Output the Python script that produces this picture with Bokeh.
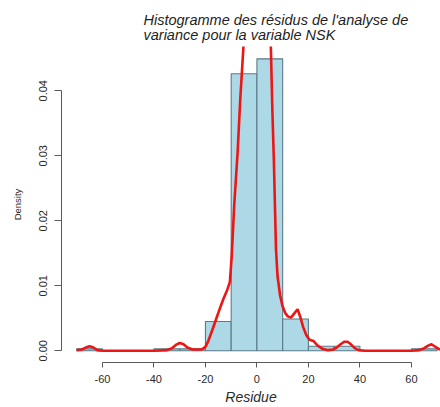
import math
from bokeh.plotting import figure
from bokeh.models import Range1d, FixedTicker, Title
from bokeh.embed import file_html
from bokeh.resources import INLINE

# ---------------- data ----------------
bin_left = [-70, -60, -50, -40, -30, -20, -10, 0, 10, 20, 30, 40, 50, 60]
bin_right = [-60, -50, -40, -30, -20, -10, 0, 10, 20, 30, 40, 50, 60, 70]
density = [0.0003, 0.0, 0.0, 0.0003, 0.0003, 0.0045, 0.0426, 0.0449,
           0.0049, 0.0007, 0.0007, 0.0, 0.0, 0.0003]

kde_x = [-70, -68, -66.5, -65, -63.5, -62, -60, -40, -35, -33, -31.5, -30,
         -28.5, -27, -25, -23, -21.5, -20, -19, -17.5, -16, -14.5, -13,
         -11.5, -10.5, -9.8, -8.8, -7.5, -6.5, -5.2, -4, -2, 0, 2, 4, 5.4,
         6.0, 6.6, 7.4, 8.0, 9.0, 10.0, 11.0, 12.0, 13.2, 14.6, 15.8, 17,
         18, 19.2, 20.4, 22, 23.6, 25.5, 27.5, 29.5, 31, 32.5, 34, 35.2,
         36.5, 38, 39.5, 42, 60, 63, 65, 66.5, 67.8, 69, 70.5, 72]
kde_y = [0.0001, 0.0002, 0.0005, 0.0007, 0.0005, 0.0001, 0.0, 0.0, 0.0001,
         0.0004, 0.0009, 0.0012, 0.0010, 0.0005, 0.0002, 0.0002, 0.0002,
         0.0006, 0.0014, 0.0030, 0.0047, 0.0064, 0.0080, 0.0094, 0.0106,
         0.0145, 0.0225, 0.0305, 0.0385, 0.0470, 0.0560, 0.0680, 0.0720,
         0.0690, 0.0580, 0.0468, 0.0370, 0.0290, 0.0157, 0.0115, 0.0085,
         0.0068, 0.0058, 0.0053, 0.0051, 0.0058, 0.0064, 0.0050, 0.0036,
         0.0024, 0.0017, 0.0015, 0.0008, 0.0003, 0.0001, 0.0002, 0.0005,
         0.0010, 0.0014, 0.0014, 0.0010, 0.0004, 0.0001, 0.0, 0.0, 0.0001,
         0.0004, 0.0008, 0.0010, 0.0007, 0.0003, 0.0001]

x_ticks = [-60, -40, -20, 0, 20, 40, 60]
x_tick_labels = ["-60", "-40", "-20", "0", "20", "40", "60"]
y_ticks = [0.0, 0.01, 0.02, 0.03, 0.04]
y_tick_labels = ["0.00", "0.01", "0.02", "0.03", "0.04"]

title_lines = ["Histogramme des résidus de l'analyse de",
               "variance pour la variable NSK"]
x_label = "Residue"
y_label = "Density"

# ---------------- figure ----------------
FONT = "Liberation Sans"
AXIS_COL = "#5a5a5a"
TEXT_COL = "#2a2a2a"

p = figure(width=440, height=407, output_backend="svg", toolbar_location=None,
           x_range=Range1d(-75.9, 71.3), y_range=Range1d(-0.0018, 0.0468),
           min_border_left=61, min_border_right=0, min_border_top=46,
           min_border_bottom=45, title=None)
p.xgrid.visible = False
p.ygrid.visible = False
p.outline_line_color = None
p.background_fill_color = "white"
p.border_fill_color = "white"

# histogram
p.quad(left=bin_left, right=bin_right, bottom=0, top=density,
       fill_color="#ADD8E6", line_color="#5b7a88", line_width=1.1)

# density curve
p.line(kde_x, kde_y, line_color="#ee1515", line_width=2.6)

# x axis
xa = p.xaxis[0]
xa.ticker = FixedTicker(ticks=x_ticks)
xa.major_label_overrides = {t: l for t, l in zip(x_ticks, x_tick_labels)}
xa.bounds = (x_ticks[0], x_ticks[-1])
xa.axis_line_color = AXIS_COL
xa.major_tick_line_color = AXIS_COL
xa.minor_tick_line_color = None
xa.major_tick_in = 0
xa.major_tick_out = 5
xa.major_label_standoff = 7
xa.major_label_text_font = FONT
xa.major_label_text_font_size = "11px"
xa.major_label_text_color = TEXT_COL

# y axis
ya = p.yaxis[0]
ya.ticker = FixedTicker(ticks=y_ticks)
ya.major_label_overrides = {t: l for t, l in zip(y_ticks, y_tick_labels)}
ya.bounds = (y_ticks[0], y_ticks[-1])
ya.axis_line_color = AXIS_COL
ya.major_tick_line_color = AXIS_COL
ya.minor_tick_line_color = None
ya.major_tick_in = 0
ya.major_tick_out = 7
ya.major_label_standoff = 7
ya.major_label_orientation = "vertical"
ya.major_label_text_font = FONT
ya.major_label_text_font_size = "11px"
ya.major_label_text_color = TEXT_COL
ya.axis_label = y_label
ya.axis_label_standoff = 14
ya.axis_label_text_font = FONT
ya.axis_label_text_font_size = "9.5px"
ya.axis_label_text_font_style = "normal"
ya.axis_label_text_color = TEXT_COL

# x axis title
p.add_layout(Title(text=x_label, align="center", offset=4, standoff=2,
                   text_font=FONT, text_font_size="14px",
                   text_font_style="italic", text_color=TEXT_COL), "below")

# title: two left-aligned italic lines
p.add_layout(Title(text=title_lines[0] + "\n" + title_lines[1], align="left",
                   offset=82, standoff=7,
                   text_font=FONT, text_font_size="14.5px",
                   text_font_style="italic", text_color="#1e1e1e",
                   text_line_height=0.95), "above")

open("out.html", "w").write(file_html(p, INLINE))
